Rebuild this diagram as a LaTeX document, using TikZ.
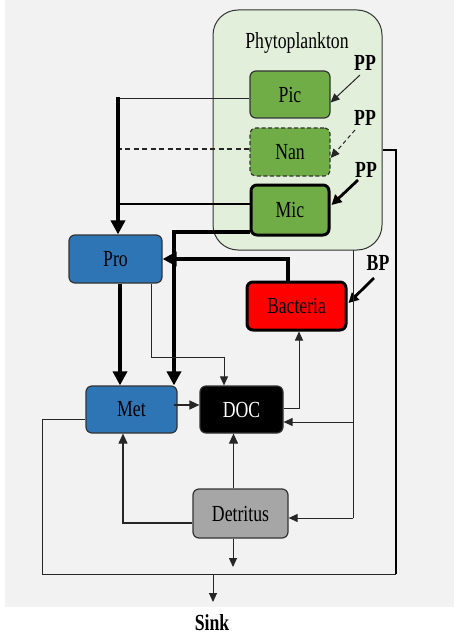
\documentclass[tikz,border=0pt]{standalone}
\usepackage{fontspec}
\setmainfont{Liberation Serif}
\newfontfamily\condf[FakeStretch=0.77]{Liberation Serif}
\usetikzlibrary{arrows.meta}
\definecolor{bgcol}{HTML}{F2F2F2}
\definecolor{phyfill}{HTML}{E2EFDA}
\definecolor{grn}{HTML}{70AD47}
\definecolor{blu}{HTML}{2E75B6}
\definecolor{gry}{HTML}{A6A6A6}
\definecolor{edge}{HTML}{333333}
\definecolor{ln}{HTML}{262626}
\tikzset{
  lab/.style={font=\condf\fontsize{23}{24}\selectfont},
  boldlab/.style={font=\condf\bfseries\fontsize{23}{24}\selectfont},
  box/.style={lab, rounded corners=6pt, draw=edge, line width=1.2pt, inner sep=0pt},
  thinarr/.style={draw=ln, line width=1pt, -{Triangle[length=9pt,width=8pt]}},
  medarr/.style={draw=ln, line width=1.1pt, -{Triangle[length=10pt,width=9pt]}},
  heavyarr/.style={line width=2.8pt, -{Triangle[length=10pt,width=10pt]}},
  thickarr/.style={line width=3.5pt, -{Triangle[length=14pt,width=14pt]}},
  thinline/.style={draw=ln, line width=1pt},
}
\begin{document}
\begin{tikzpicture}[x=1pt,y=-1pt]
\useasboundingbox (0,0) rectangle (454,639);
\fill[bgcol] (5,0) rectangle (454,607);
% phytoplankton container
\node[draw=edge, line width=1pt, fill=phyfill, rounded corners=25pt, minimum width=169pt, minimum height=240pt] (phyto) at (297.5,130) {};
\node[lab] (phytolab) at (297,43) {Phytoplankton};
\node[box, fill=grn, minimum width=80pt, minimum height=47pt] (pic) at (290,94.5) {Pic};
\node[box, fill=grn, dash pattern=on 4pt off 2.5pt, minimum width=80pt, minimum height=48pt] (nan) at (290,152) {Nan};
\node[box, fill=grn, draw=black, line width=3pt, minimum width=78pt, minimum height=50pt] (mic) at (290,210) {Mic};
% other boxes
\node[box, fill=blu, minimum width=93pt, minimum height=48pt] (pro) at (115.5,259) {Pro};
\node[box, fill=red, draw=black, line width=3pt, minimum width=99pt, minimum height=48pt] (bac) at (296.5,306) {Bacteria};
\node[box, fill=blu, minimum width=91pt, minimum height=47pt] (met) at (131.5,409.5) {Met};
\node[box, fill=black, text=white, minimum width=83pt, minimum height=47pt] (doc) at (241.5,409.5) {DOC};
\node[box, fill=gry, minimum width=95pt, minimum height=49pt] (det) at (240.5,513.5) {Detritus};
% labels
\node[boldlab] (pp1) at (365,63) {PP};
\node[boldlab] (pp2) at (365,118) {PP};
\node[boldlab] (pp3) at (366,170) {PP};
\node[boldlab] (bp) at (378,263) {BP};
\node[boldlab] (sink) at (212,623) {Sink};
% helper coordinates
\coordinate (pv) at (118,99);
\coordinate (nanw) at ([yshift=3pt]nan.west);
\coordinate (micw) at ([yshift=6pt]mic.west);
\coordinate (mv) at (174,232);
\coordinate (pd) at (224,357);
\coordinate (rtop) at (353,250);
\coordinate (rbot) at (353,518);
\coordinate (rdoc) at (353,422);
\coordinate (lloop) at (42,419);
\coordinate (bl) at (42,574);
\coordinate (br) at (396,574);
\coordinate (phye) at ([yshift=-20pt]phyto.east);
\coordinate (sk) at (213,574);
\coordinate (skend) at (213,602);
\coordinate (detout) at (233,567);
% PP / BP arrows
\draw[thinarr] (360,75) -- ([yshift=-8pt]pic.east);
\draw[thinarr, dash pattern=on 4pt off 3pt] (355,130) -- ([yshift=-6pt]nan.east);
\draw[heavyarr] (358,180) -- ([xshift=1pt,yshift=5pt]mic.east);
\draw[heavyarr] (374,278) -- ([xshift=1pt,yshift=3pt]bac.east);
% phyto -> pro
\draw[thinline] ([yshift=-4.5pt]pic.west) -- (pv);
\draw[line width=1.2pt, draw=ln, dash pattern=on 5pt off 3.5pt] (nanw) -- (pv |- nanw);
\draw[line width=1.6pt] (micw) -- (pv |- micw);
\draw[thickarr] ([yshift=1.5pt]pv) -- (pv |- pro.north);
% mic -> met
\draw[thickarr] (mv -| mic.west) -- (mv) -- (mv |- met.north);
% bacteria -> pro
\draw[thickarr] ([xshift=-8.5pt]bac.north) |- (pro.east);
% pro -> met
\draw[thickarr] ([xshift=4.5pt]pro.south) -- ([xshift=4.5pt]pro.south |- met.north);
% pro -> doc
\draw[thinline] ([xshift=35.5pt]pro.south) |- (pd);
\draw[thinarr] (pd) -- (pd |- doc.north);
% met -> doc
\draw[medarr, line width=1.5pt] ([xshift=-4pt,yshift=4.5pt]met.east) -- ([yshift=4.5pt]doc.west);
% doc -> bacteria
\draw[thinarr] ([yshift=1.5pt]doc.east) -| ([xshift=2.5pt]bac.south);
% right branch
\draw[thinline] (rtop) -- (rbot);
\draw[thinarr] (rbot) -- (rbot -| det.east);
\draw[thinarr] (rdoc) -- (rdoc -| doc.east);
% detritus
\draw[medarr] ([xshift=-7pt]det.north) -- ([xshift=-7pt]det.north |- doc.south);
\draw[medarr] ([yshift=-9.5pt]det.west) -| ([xshift=-8.5pt]met.south);
\draw[thinarr] ([xshift=-7.5pt]det.south) -- (detout);
% loop to sink
\draw[thinline] ([yshift=-9.5pt]met.west) -- (lloop) -- (bl) -- (br);
\draw[line width=2pt] (br) -- (br |- phye) -- (phye);
\draw[thinarr] (sk) -- (skend);
\end{tikzpicture}
\end{document}
